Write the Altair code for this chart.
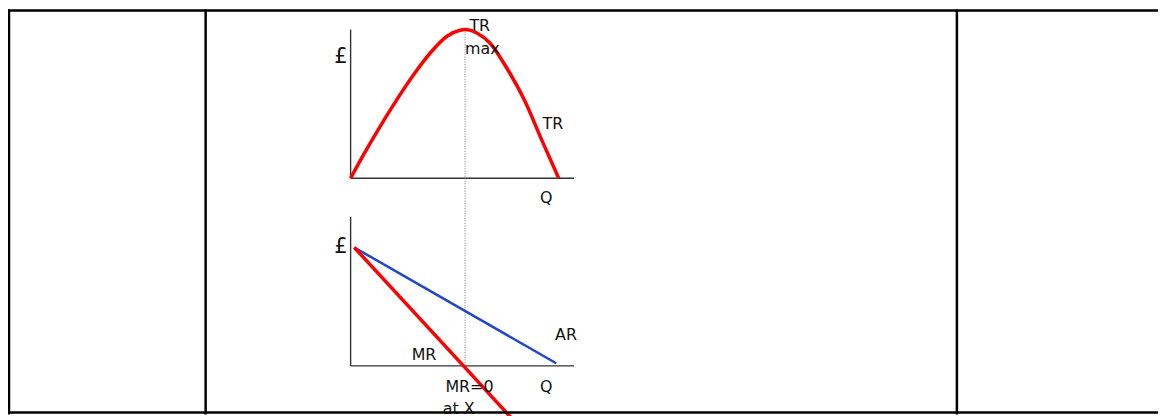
import altair as alt
import pandas as pd

# ---------------- data (diagram units: Q on x, £ on y) ----------------
# Total revenue curve (top panel)
tr_q = [0, 0.59, 1.31, 2.03, 2.76, 3.48, 4.20, 4.77, 4.99, 5.50, 6.07, 6.80, 7.59, 8.31, 9.07]
tr_v = [0, 16.5, 35.4, 53.2, 69.9, 84.4, 95.5, 99.5, 100, 97.7, 91.0, 74.3, 52.1, 26.5, 0]

# Average revenue and marginal revenue (bottom panel)
ar_q = [0.16, 8.96]
ar_v = [100, 2.3]
mr_q = [0.16, 4.92, 7.2]
mr_v = [100, 0, -48]

# Q at which TR is max / MR = 0
q_star = [4.99]

# axes of each panel: (q, v, q2, v2)
top_axes_q = [0, 0]
top_axes_v = [0, 0]
top_axes_q2 = [0, 9.74]
top_axes_v2 = [100, 0]
bot_axes_q = [0, 0]
bot_axes_v = [0, 0]
bot_axes_q2 = [0, 9.74]
bot_axes_v2 = [125.7, 0]

# labels
top_lab_text = ["TR", "max", "TR", "Q"]
top_lab_q = [5.63, 5.74, 8.82, 8.53]
top_lab_v = [102.2, 86.8, 36.7, -13.4]
top_pound_q = [-0.43]
top_pound_v = [81.2]
bot_lab_text = ["AR", "MR", "MR=0", "at X", "Q"]
bot_lab_q = [9.39, 3.2, 5.18, 4.71, 8.53]
bot_lab_v = [26, 9.2, -17.4, -36, -17.4]
bot_pound_q = [-0.42]
bot_pound_v = [100]

# ---------------- layout ----------------
W, H = 1158, 408
Q_SC = alt.Scale(domain=[0, 10], range=[345, 576], nice=False, zero=False)
TOP_SC = alt.Scale(domain=[0, 100], range=[170, 20.3], nice=False, zero=False)
BOT_SC = alt.Scale(domain=[0, 100], range=[359, 239.7], nice=False, zero=False)
FONT = "DejaVu Sans"


def X(f):
    return alt.X(f, type="quantitative", scale=Q_SC, axis=None)


def Y(f, sc):
    return alt.Y(f, type="quantitative", scale=sc, axis=None)


tr_df = pd.DataFrame({"q": tr_q, "v": tr_v})
ar_df = pd.DataFrame({"q": ar_q, "v": ar_v})
mr_df = pd.DataFrame({"q": mr_q, "v": mr_v})

top_axes = alt.Chart(pd.DataFrame({"q": top_axes_q, "v": top_axes_v,
                                   "q2": top_axes_q2, "v2": top_axes_v2})).mark_rule(
    color="#333333", strokeWidth=1.4).encode(
    x=X("q"), y=Y("v", TOP_SC), x2="q2", y2="v2")

bot_axes = alt.Chart(pd.DataFrame({"q": bot_axes_q, "v": bot_axes_v,
                                   "q2": bot_axes_q2, "v2": bot_axes_v2})).mark_rule(
    color="#333333", strokeWidth=1.4).encode(
    x=X("q"), y=Y("v", BOT_SC), x2="q2", y2="v2")

dotted = alt.Chart(pd.DataFrame({"q": q_star})).mark_rule(
    color="#777777", strokeWidth=1, strokeDash=[1, 1.5]).encode(
    x=X("q"), y=alt.value(20), y2=alt.value(359))

tr_line = alt.Chart(tr_df).mark_line(
    color="#ff0000", strokeWidth=3.5, interpolate="monotone").encode(
    x=X("q"), y=Y("v", TOP_SC), order="q:Q")

ar_line = alt.Chart(ar_df).mark_line(color="#2145cc", strokeWidth=2.5).encode(
    x=X("q"), y=Y("v", BOT_SC))

mr_line = alt.Chart(mr_df).mark_line(color="#ff0000", strokeWidth=3.5).encode(
    x=X("q"), y=Y("v", BOT_SC))

txt_style = dict(font=FONT, fontSize=16, color="#111111", align="center", baseline="middle")
pound_style = dict(font=FONT, fontSize=21, color="#111111", align="center", baseline="middle")

top_text = alt.Chart(pd.DataFrame({"t": top_lab_text, "q": top_lab_q, "v": top_lab_v})).mark_text(
    **txt_style).encode(x=X("q"), y=Y("v", TOP_SC), text="t:N")
top_pound = alt.Chart(pd.DataFrame({"q": top_pound_q, "v": top_pound_v})).mark_text(
    text="£", **pound_style).encode(x=X("q"), y=Y("v", TOP_SC))

bot_text = alt.Chart(pd.DataFrame({"t": bot_lab_text, "q": bot_lab_q, "v": bot_lab_v})).mark_text(
    **txt_style).encode(x=X("q"), y=Y("v", BOT_SC), text="t:N")
bot_pound = alt.Chart(pd.DataFrame({"q": bot_pound_q, "v": bot_pound_v})).mark_text(
    text="£", **pound_style).encode(x=X("q"), y=Y("v", BOT_SC))

# table frame (page decoration)
frame_h = alt.Chart(pd.DataFrame({"k": [0]})).mark_rule(color="#000000", strokeWidth=2.5).encode(
    x=alt.value(0), x2=alt.value(W), y=alt.value(1))
frame_b = alt.Chart(pd.DataFrame({"k": [0]})).mark_rule(color="#000000", strokeWidth=2.5).encode(
    x=alt.value(0), x2=alt.value(W), y=alt.value(406))
frame_l = alt.Chart(pd.DataFrame({"k": [0]})).mark_rule(color="#000000", strokeWidth=2.5).encode(
    x=alt.value(1), y=alt.value(0), y2=alt.value(H))
frame_v1 = alt.Chart(pd.DataFrame({"k": [0]})).mark_rule(color="#000000", strokeWidth=2.5).encode(
    x=alt.value(199), y=alt.value(0), y2=alt.value(H))
frame_v2 = alt.Chart(pd.DataFrame({"k": [0]})).mark_rule(color="#000000", strokeWidth=2.5).encode(
    x=alt.value(955.5), y=alt.value(0), y2=alt.value(H))

chart = alt.layer(
    top_axes, bot_axes, dotted, tr_line, ar_line, mr_line,
    top_text, top_pound, bot_text, bot_pound,
    frame_h, frame_b, frame_l, frame_v1, frame_v2,
).resolve_scale(x="independent", y="independent").properties(
    width=W, height=H, padding=0, autosize=alt.AutoSizeParams(type="none"),
    background="white",
).configure_view(stroke=None)

chart.save("out.html", embed_options={"renderer": "svg", "actions": False})
